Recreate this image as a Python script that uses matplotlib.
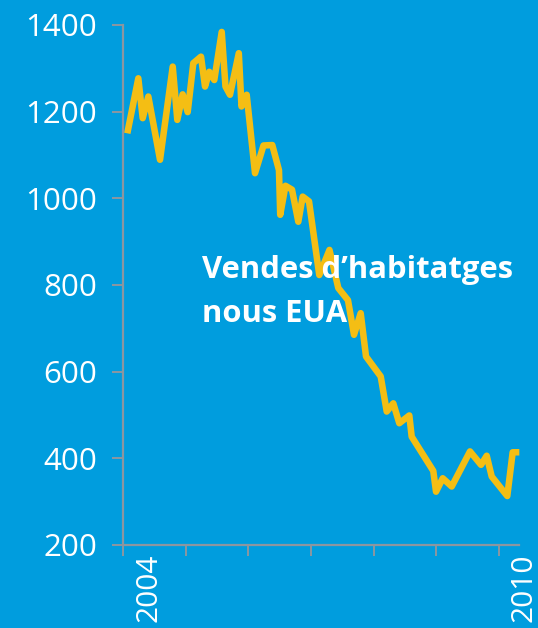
import matplotlib
matplotlib.use("Agg")
import matplotlib.pyplot as plt

# Data (decimal year, thousands of units SAAR)
years = [2004.064, 2004.240, 2004.310, 2004.400, 2004.587, 2004.790, 2004.863, 2004.949,
         2005.029, 2005.119, 2005.242, 2005.306, 2005.374, 2005.454, 2005.573, 2005.633,
         2005.705, 2005.846, 2005.889, 2005.972, 2006.105, 2006.241, 2006.381, 2006.488,
         2006.508, 2006.592, 2006.696, 2006.797, 2006.867, 2006.968, 2007.132, 2007.295,
         2007.436, 2007.591, 2007.687, 2007.794, 2007.879, 2008.114, 2008.210, 2008.315,
         2008.411, 2008.571, 2008.609, 2008.954, 2008.998, 2009.105, 2009.249, 2009.541,
         2009.717, 2009.808, 2009.888, 2010.137, 2010.223, 2010.329]
sales = [1150, 1277, 1185, 1235, 1089, 1304, 1181, 1240,
         1199, 1312, 1327, 1258, 1292, 1273, 1384, 1258,
         1239, 1335, 1212, 1239, 1058, 1122, 1123, 1065,
         962, 1029, 1020, 946, 1004, 993, 823, 881,
         793, 765, 685, 735, 635, 589, 508, 527,
         481, 499, 450, 371, 323, 354, 335, 416,
         385, 406, 358, 313, 414, 414]

y_ticks = [200, 400, 600, 800, 1000, 1200, 1400]
x_ticks = [2004, 2005, 2006, 2007, 2008, 2009, 2010]
x_labels = {"2004": 2004.41, "2010": 2010.40}
title_lines = ["Vendes d\u2019habitatges", "nous EUA"]

BG = "#009DDE"
LINE = "#F4BE14"
AXC = "#8C96A0"

W, H = 538, 628
fig = plt.figure(figsize=(W / 100, H / 100), dpi=100, facecolor=BG)
left, right, top, bottom = 123.3, 519.3, 25, 545
ax = fig.add_axes([left / W, 1 - bottom / H, (right - left) / W, (bottom - top) / H])
ax.set_facecolor(BG)

ax.plot(years, sales, color=LINE, lw=4.7, solid_joinstyle="round",
        solid_capstyle="butt", clip_on=False, zorder=3)

ax.set_xlim(2004, 2004 + (right - left) / 62.57)
ax.set_ylim(200, 1400)

for s in ["top", "right"]:
    ax.spines[s].set_visible(False)
for s in ["left", "bottom"]:
    ax.spines[s].set_color(AXC)
    ax.spines[s].set_linewidth(1.6)

ax.set_yticks(y_ticks)
ax.set_yticklabels([str(v) for v in y_ticks])
ax.set_xticks(x_ticks)
ax.set_xticklabels([])
ax.tick_params(axis="both", direction="out", length=8, width=1.4, color=AXC)
ax.tick_params(axis="y", labelsize=22.5, labelcolor="white", pad=11)
for t in ax.get_yticklabels():
    t.set_fontfamily("Open Sans")

tr = ax.get_xaxis_transform()
for lab, xv in x_labels.items():
    ax.text(xv, -8 / (bottom - top), lab, transform=tr, rotation=90,
            ha="center", va="top", color="white", fontsize=21.5,
            family="Open Sans", clip_on=False)

fig.text(202.0 / W, 1 - 278 / H, title_lines[0], color="white", fontsize=22.3,
         fontweight="bold", family="Open Sans", ha="left", va="baseline", zorder=5)
fig.text(202.0 / W, 1 - 322.5 / H, title_lines[1], color="white", fontsize=22.3,
         fontweight="bold", family="Open Sans", ha="left", va="baseline", zorder=5)

fig.savefig("out.png", dpi=100, facecolor=BG)
